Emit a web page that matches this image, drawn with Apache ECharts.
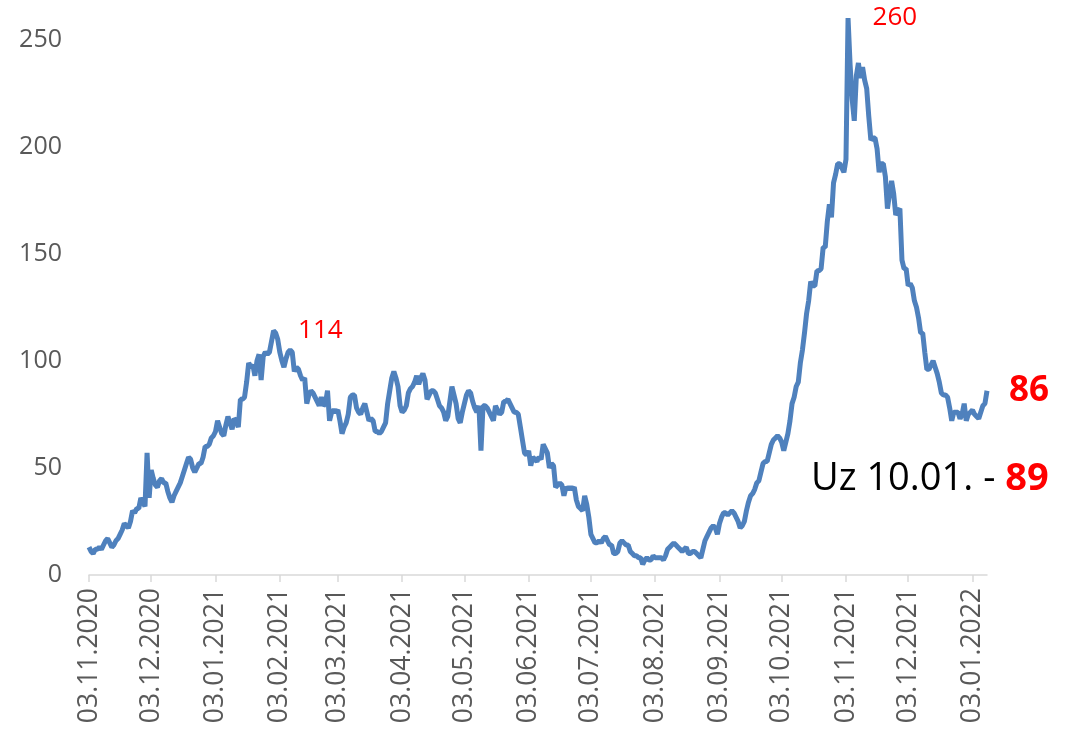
<!DOCTYPE html>
<html>
<head>
<meta charset="utf-8">
<script src="https://cdn.jsdelivr.net/npm/echarts@6/dist/echarts.min.js"></script>
<style>
  html, body { margin: 0; padding: 0; background: #fff; }
  #chart { width: 1087px; height: 732px; }
</style>
</head>
<body>
<div id="chart"></div>
<script>
// daily values, 03.11.2020 - 10.01.2022
var nov2020 = [13, 11, 10, 12, 12, 13, 12, 14, 16, 17, 15, 13, 14, 16, 17, 19, 21, 24, 23, 22, 25, 30, 29, 31, 31, 36, 34, 32];
var dec2020 = [57, 36, 49, 45, 42, 41, 44, 45, 43, 43, 39, 36, 34, 37, 39, 41, 43, 46, 49, 52, 55, 54, 50, 48, 50, 52, 52, 55, 60, 60, 61];
var jan2021 = [64, 65, 67, 72, 69, 66, 65, 70, 74, 71, 68, 73, 72, 69, 82, 82, 83, 90, 99, 97, 98, 93, 100, 103, 91, 102, 104, 103, 104, 109, 114];
var feb2021 = [113, 110, 104, 100, 97, 101, 104, 105, 104, 95, 97, 96, 93, 91, 92, 80, 84, 86, 85, 83, 81, 79, 83, 79, 80, 86, 72, 76];
var mar2021 = [77, 76, 77, 72, 66, 69, 71, 75, 83, 84, 84, 78, 76, 75, 78, 80, 76, 72, 73, 72, 67, 67, 66, 67, 69, 71, 80, 86, 92, 95, 92];
var apr2021 = [88, 79, 76, 77, 79, 85, 87, 88, 90, 93, 89, 92, 94, 91, 82, 84, 86, 86, 85, 82, 79, 78, 76, 72, 74, 81, 88, 84, 80, 73];
var may2021 = [71, 76, 80, 84, 86, 85, 81, 78, 76, 79, 58, 79, 79, 78, 76, 74, 72, 79, 77, 75, 76, 81, 81, 82, 80, 78, 76, 76, 75, 69, 63];
var jun2021 = [57, 56, 58, 51, 55, 54, 53, 55, 54, 61, 59, 57, 50, 52, 51, 41, 42, 43, 42, 37, 41, 40, 41, 40, 41, 35, 32, 31, 30, 37];
var jul2021 = [33, 27, 19, 17, 15, 15, 16, 15, 17, 18, 16, 14, 14, 10, 10, 11, 15, 16, 15, 14, 14, 11, 10, 9, 9, 8, 8, 5, 7, 8, 7];
var aug2021 = [7, 9, 8, 8, 8, 8, 7, 9, 12, 13, 14, 15, 14, 13, 12, 11, 12, 13, 10, 10, 11, 11, 10, 9, 8, 12, 16, 18, 20, 22, 23];
var sep2021 = [22, 19, 24, 27, 29, 29, 28, 29, 30, 29, 27, 25, 22, 23, 25, 30, 34, 37, 38, 40, 43, 44, 48, 52, 53, 53, 57, 61, 63, 64];
var oct2021 = [65, 64, 62, 58, 62, 66, 72, 80, 83, 88, 90, 99, 105, 113, 122, 128, 137, 135, 135, 142, 142, 143, 153, 153, 165, 173, 167, 183, 187, 192, 192];
var nov2021 = [190, 188, 194, 260, 238, 222, 212, 233, 239, 232, 237, 231, 227, 214, 203, 204, 204, 199, 188, 192, 192, 186, 171, 178, 184, 178, 168, 170, 171, 147];
var dec2021 = [143, 143, 135, 136, 134, 128, 125, 120, 113, 113, 104, 96, 96, 98, 100, 97, 94, 90, 85, 84, 84, 83, 78, 72, 76, 76, 76, 73, 75, 80, 72];
var jan2022 = [75, 76, 77, 75, 74, 73, 76, 79, 80, 86];

var values = [].concat(nov2020, dec2020, jan2021, feb2021, mar2021, apr2021, may2021,
    jun2021, jul2021, aug2021, sep2021, oct2021, nov2021, dec2021, jan2022);

var yTicks = [0, 50, 100, 150, 200, 250];
var noteText = 'Uz 10.01. - ';
var noteValue = '89';

// dd.mm.yyyy categories, one per day
function pad(n) { return n < 10 ? '0' + n : '' + n; }
var dates = [];
var d = new Date(2020, 10, 3);
for (var i = 0; i < values.length; i++) {
    dates.push(pad(d.getDate()) + '.' + pad(d.getMonth() + 1) + '.' + d.getFullYear());
    d.setDate(d.getDate() + 1);
}

function isMonthTick(index, value) {
    return dates[index].slice(0, 3) === '03.';
}

// local maxima that carry a red label
function maxIndex(from, to) {
    var best = from;
    for (var k = from; k <= to; k++) {
        if (values[k] > values[best]) best = k;
    }
    return best;
}
var peaks = [maxIndex(0, 200), maxIndex(300, values.length - 1)];

var FONT = '"Open Sans", "DejaVu Sans", sans-serif';

var chart = echarts.init(document.getElementById('chart'));
chart.setOption({
    animation: false,
    grid: {left: 89, right: 100, top: 18, bottom: 157},
    xAxis: {
        type: 'category',
        boundaryGap: false,
        data: dates,
        axisLine: {lineStyle: {color: '#d9d9d9', width: 1.5}},
        axisTick: {show: true, interval: isMonthTick, length: 7, lineStyle: {color: '#d9d9d9', width: 1.5}},
        axisLabel: {
            interval: isMonthTick,
            rotate: 90,
            margin: 13,
            color: '#595959',
            fontSize: 26.5,
            fontFamily: FONT
        },
        splitLine: {show: false}
    },
    yAxis: {
        type: 'value',
        min: yTicks[0],
        max: 260,
        interval: yTicks[1] - yTicks[0],
        axisLine: {show: false},
        axisTick: {show: false},
        splitLine: {show: false},
        axisLabel: {
            showMaxLabel: false,
            margin: 27,
            color: '#595959',
            fontSize: 25,
            fontFamily: FONT
        }
    },
    series: [{
        type: 'line',
        data: values,
        symbol: 'none',
        lineStyle: {color: '#4f81bd', width: 5},
        itemStyle: {color: '#4f81bd'},
        endLabel: {
            show: true,
            distance: 22,
            formatter: function (p) { return p.value; },
            color: '#ff0000',
            fontWeight: 'bold',
            fontSize: 35,
            fontFamily: FONT
        },
        markPoint: {
            symbol: 'circle',
            symbolSize: 1,
            itemStyle: {color: 'rgba(0,0,0,0)'},
            label: {
                show: true,
                position: 'right',
                distance: 24,
                color: '#ff0000',
                fontSize: 26,
                fontFamily: FONT,
                formatter: function (p) { return p.value; }
            },
            data: peaks.map(function (k) {
                return {coord: [dates[k], values[k]], value: values[k]};
            })
        }
    }],
    graphic: [{
        type: 'text',
        left: 811,
        top: 460,
        style: {
            text: '{a|' + noteText + '}{b|' + noteValue + '}',
            rich: {
                a: {fontSize: 38, fill: '#000000', fontFamily: FONT},
                b: {fontSize: 38, fill: '#ff0000', fontWeight: 'bold', fontFamily: FONT}
            }
        }
    }]
});
</script>
</body>
</html>
